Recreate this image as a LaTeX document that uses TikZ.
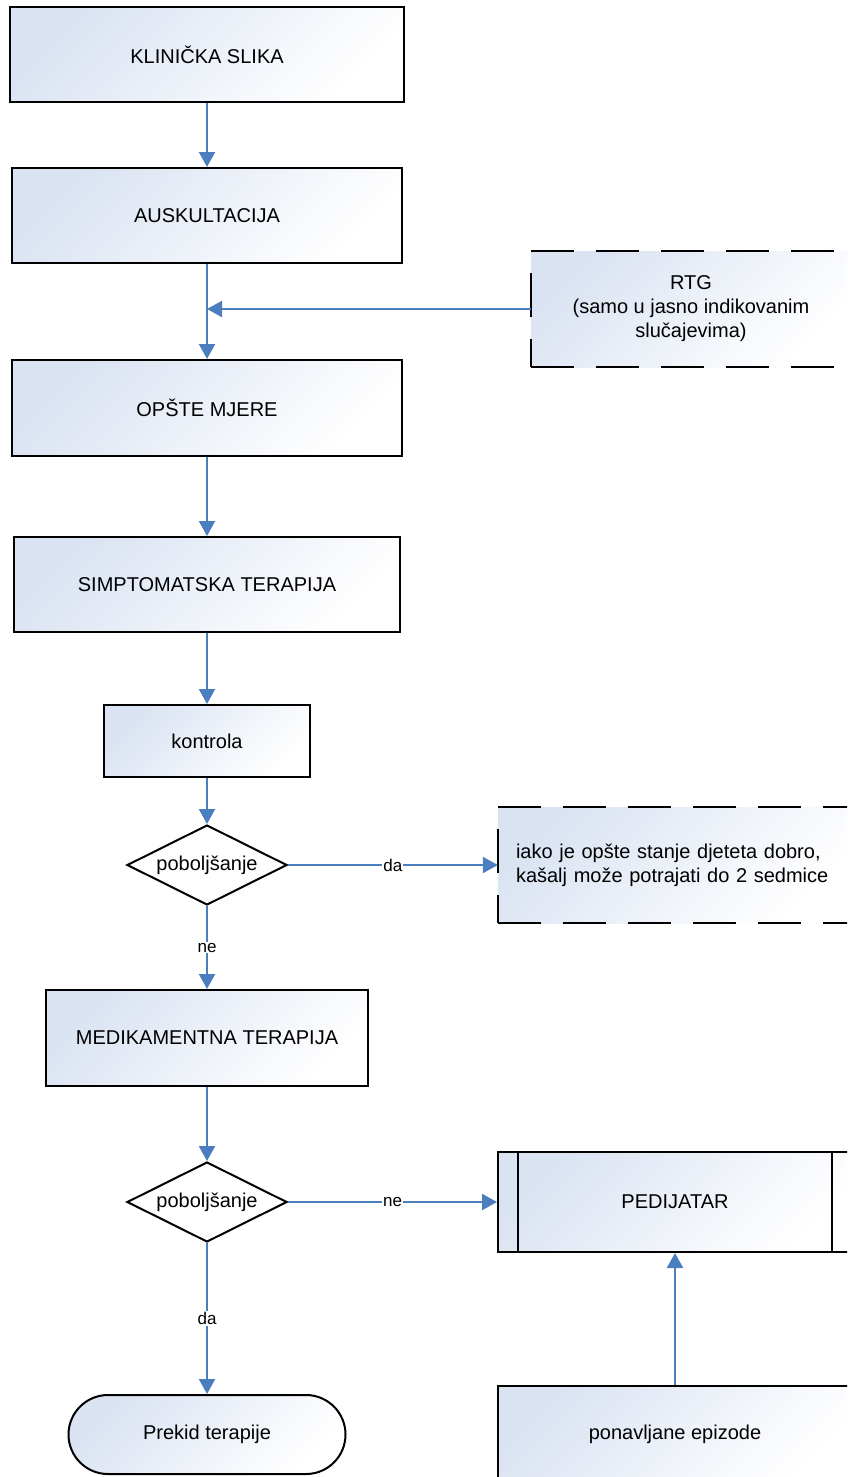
\documentclass[tikz,border=0pt]{standalone}
\usepackage{fontspec}
\setmainfont{Liberation Sans}
\usetikzlibrary{shapes.geometric,arrows.meta}
\definecolor{arrowblue}{HTML}{4A7EBF}
\definecolor{gradA}{HTML}{DAE3F2}
\begin{document}
\begin{tikzpicture}[x=1pt,y=-1pt,
  shadefill/.style={top color=gradA,bottom color=white,shading angle=45},
  box/.style={shadefill,draw=black,line width=2pt,font=\fontsize{20}{24}\selectfont,inner sep=0pt,align=center},
  dbox/.style={shadefill,font=\fontsize{20}{24}\selectfont,inner sep=0pt},
  decision/.style={diamond,aspect=2,draw=black,fill=white,line width=2pt,inner sep=0pt,minimum width=160pt,minimum height=80pt,font=\fontsize{20}{24}\selectfont},
  flow/.style={draw=arrowblue,line width=2.2pt,-{Triangle[width=16pt,length=15pt]}},
  lbl/.style={fill=white,inner sep=1pt,font=\fontsize{17}{20}\selectfont,text=black},
  dashside/.style={line width=2pt,dash pattern=on 43pt off 22pt},
  dashleft/.style={line width=2pt,dash pattern=on 28pt off 22pt on 44pt off 100pt}]
\useasboundingbox (0,0) rectangle (847,1477);
\clip (0,0) rectangle (847,1477);

\node[box,minimum width=394pt,minimum height=95pt] (k) at (207,54.5) {KLINIČKA SLIKA};
\node[box,minimum width=390pt,minimum height=95pt] (a) at (207,215.5) {AUSKULTACIJA};
\node[dbox,minimum width=320pt,minimum height=116pt,align=center] (rtg) at (691,309) {RTG\\(samo u jasno indikovanim\\slučajevima)};
\draw[dashside] (rtg.north west) -- (rtg.north east);
\draw[dashside] (rtg.south west) -- (rtg.south east);
\draw[dashleft] (rtg.south west) -- (rtg.north west);
\node[box,minimum width=390pt,minimum height=96pt] (o) at (207,408) {OPŠTE MJERE};
\node[box,minimum width=386pt,minimum height=95pt] (s) at (207,584.5) {SIMPTOMATSKA TERAPIJA};
\node[box,minimum width=206pt,minimum height=72pt] (kon) at (207,741) {kontrola};
\node[decision] (d1) at (207,865) {poboljšanje};
\node[dbox,minimum height=116pt,text width=318pt,inner xsep=18pt,align=left] (n) at (675,865) {iako je opšte stanje djeteta dobro,\\kašalj može potrajati do 2 sedmice};
\draw[dashside] (n.north west) -- (n.north east);
\draw[dashside] (n.south west) -- (n.south east);
\draw[dashleft] (n.south west) -- (n.north west);
\node[box,minimum width=322pt,minimum height=96pt] (m) at (207,1038) {MEDIKAMENTNA TERAPIJA};
\node[decision] (d2) at (207,1202) {poboljšanje};
\node[box,minimum width=354pt,minimum height=100pt] (p) at (675,1202) {PEDIJATAR};
\draw[line width=2pt] ([xshift=21pt]p.north west) -- ([xshift=21pt]p.south west);
\draw[line width=2pt] ([xshift=-21pt]p.north east) -- ([xshift=-21pt]p.south east);
\node[box,minimum width=277pt,minimum height=79pt,rounded corners=39.5pt] (pr) at (207,1434.5) {Prekid terapije};
\node[box,minimum width=354pt,minimum height=96pt] (pe) at (675,1434) {ponavljane epizode};

\draw[flow] (k.south) -- (a.north);
\draw[flow] (a.south) -- (o.north);
\draw[flow] (rtg.west) -- (rtg.west -| a.south);
\draw[flow] (o.south) -- (s.north);
\draw[flow] (s.south) -- (kon.north);
\draw[flow] (kon.south) -- (d1.north);
\draw[flow] (d1.east) -- node[lbl] {da} (n.west);
\draw[flow] (d1.south) -- node[lbl] {ne} (m.north);
\draw[flow] (m.south) -- (d2.north);
\draw[flow] (d2.east) -- node[lbl] {ne} (p.west);
\draw[flow] (d2.south) -- node[lbl] {da} (pr.north);
\draw[flow] (pe.north) -- (p.south);
\end{tikzpicture}
\end{document}
